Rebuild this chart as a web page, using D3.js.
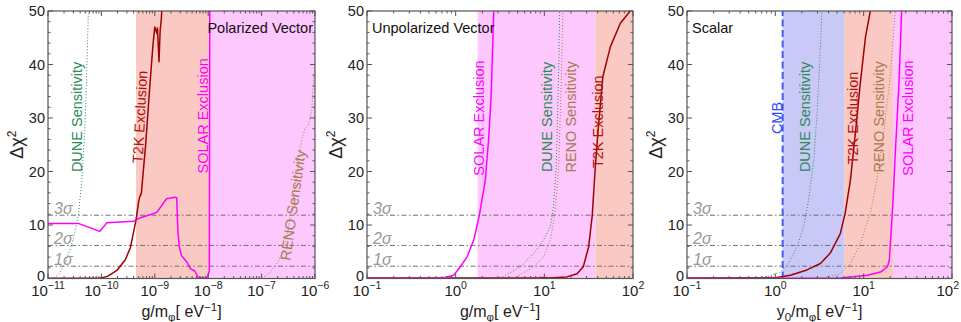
<!DOCTYPE html>
<html><head><meta charset="utf-8">
<script src="https://cdn.jsdelivr.net/npm/d3@7"></script>
<style>body{margin:0;background:#fff} svg{display:block;font-family:"Liberation Sans",Arial,sans-serif}</style>
</head><body><svg id="c" width="961" height="322"></svg>
<script>
// ---------------- data ----------------
const yTicks = [0, 10, 20, 30, 40, 50];
const sigmaLevels = [2.3, 6.18, 11.83];
const sigmaLabels = ["1σ", "2σ", "3σ"];
const panelTitles = ["Polarized Vector", "Unpolarized Vector", "Scalar"];
const xDomains = [[1e-11, 1e-6], [0.1, 100], [0.1, 100]];
const xTickExps = [[-11, -10, -9, -8, -7, -6], [-1, 0, 1, 2], [-1, 0, 1, 2]];

// Polarized vector
const polDUNE = [[1.0e-11,0],[1.3e-11,0.1],[1.6e-11,0.8],[2.1e-11,2.8],[2.6e-11,5.5],[3.0e-11,7.5],[3.7e-11,11.8],[4.3e-11,18.4],[4.9e-11,28],[5.3e-11,38],[5.7e-11,50]];
const polT2K = [[1e-11,0.05],[9.3e-11,0.05],[1.3e-10,0.4],[1.95e-10,1.5],[2.8e-10,3.5],[3.5e-10,5.8],[4.45e-10,10.9],[5.0e-10,14.5],[5.25e-10,15.3],[5.6e-10,15.9],[6.8e-10,25.5],[8.0e-10,35.5],[9.3e-10,44],[1.0e-9,47],[1.1e-9,45.8],[1.12e-9,46.8],[1.2e-9,40.5],[1.26e-9,46.4],[1.32e-9,48.3],[1.35e-9,50],[1.4e-9,52]];
const polSOLAR = [[1e-11,10.3],[3.7e-11,10.3],[9.3e-11,8.8],[1.26e-10,10.4],[4.0e-10,10.7],[5.2e-10,11.3],[9.3e-10,12.1],[1.1e-9,12.4],[1.66e-9,14.9],[2.4e-9,15.2],[2.57e-9,15.1],[2.7e-9,9],[2.88e-9,5.9],[3.16e-9,4.3],[3.98e-9,3.1],[4.68e-9,1.8],[5.6e-9,1.4],[6.45e-9,0.25],[8.7e-9,0.05],[9.8e-9,0.4],[1.05e-8,1.5],[1.07e-8,50]];
const polRENO = [[1.0e-7,0],[1.4e-7,1.0],[2.0e-7,3.0],[2.6e-7,5.2],[3.0e-7,7.7],[3.4e-7,11.5],[3.9e-7,14.6],[4.7e-7,20],[5.6e-7,25.9],[6.45e-7,28],[7.5e-7,28.7],[8.7e-7,31.5],[9.5e-7,37.7],[1.0e-6,39.6]];
const polRegions = [[4.45e-10, 1.05e-8, "t2k"], [1.05e-8, 1e-6, "solar"]];

// Unpolarized vector
const unpSOLAR = [[0.1,0.05],[0.7,0.05],[0.95,0.6],[1.13,2.2],[1.34,4.0],[1.6,7.2],[1.85,11.83],[2.16,18.4],[2.35,25.9],[2.5,33.4],[2.61,42.7],[2.69,50]];
const unpDUNE = [[3.16,0],[5.4,2.2],[7.6,4.7],[9.8,7.2],[11.7,9.7],[12.7,13.4],[13.6,20.9],[14.1,30.2],[14.6,40.8],[14.9,50]];
const unpRENO = [[4.5,0],[7.6,2.2],[9.8,4.0],[11.7,7.2],[13.2,12.2],[14.5,20.9],[15.1,30.2],[15.7,39.6],[16.2,50]];
const unpT2K = [[0.1,0.1],[9.0,0.1],[10,0.2],[11,0.1],[18,0.3],[23.4,0.9],[27.5,2.2],[31.6,5.9],[34.7,11.8],[37.6,20.9],[40.7,28.4],[45.7,37.7],[55.5,43.3],[72,47.7],[93,50]];
const unpRegions = [[1.77, 37.6, "solar"], [37.6, 100, "t2k"]];

// Scalar
const scaDUNE = [[0.1,0],[0.52,0.05],[0.8,0.3],[1.14,1.2],[1.41,2.8],[1.76,5.9],[2.09,9.7],[2.38,14.7],[2.72,22.1],[2.95,30.2],[3.16,39.6],[3.37,50]];
const scaT2K = [[0.1,0.1],[1.0,0.15],[1.48,0.6],[2.28,1.6],[3.24,2.8],[4.17,4.7],[5.44,8.4],[6.17,12.2],[7.08,18.4],[8.05,27.1],[9.16,36.5],[10.5,45.2],[11.9,50]];
const scaRENO = [[3.24,0],[5.44,0.9],[7.08,2.8],[9.16,6.5],[11.9,12.2],[14.1,18.4],[16.8,27.1],[20,37.7],[22.8,50]];
const scaSOLAR = [[0.1,0.05],[4.0,0.05],[5.5,0.1],[11,0.6],[15.5,1.2],[18.6,2.2],[19.5,3.4],[20.4,8.4],[21.5,14.7],[22.9,24],[25.1,36.5],[26.9,50]];
const scaRegions = [[1.21, 6.04, "cmb"], [6.04, 21.5, "t2k"], [21.5, 100, "solar"]];
const scaCMB = 1.21;

// annotation labels: [text, kind, x, y(Δχ²), angle]
const polLabels = [["DUNE Sensitivity","dune",3.49e-11,30.2,-90],["T2K Exclusion","t2k",5.28e-10,30.2,-87],["SOLAR Exclusion","solar",8.0e-9,30.4,-90],["RENO Sensitivity","reno",3.87e-7,13.7,-82]];
const unpLabels = [["SOLAR Exclusion","solar",1.83,30,-90],["DUNE Sensitivity","dune",10.6,30.2,-90],["RENO Sensitivity","reno",19.8,30.2,-90],["T2K Exclusion","t2k",40.6,29.3,-90]];
const scaLabels = [["CMB","cmb",1.04,30,-90],["DUNE Sensitivity","dune",2.17,30.2,-90],["T2K Exclusion","t2k",7.52,30,-90],["RENO Sensitivity","reno",15.0,30.2,-90],["SOLAR Exclusion","solar",32.0,30,-90]];

// ---------------- styles ----------------
const fillCol = {t2k: "#fbc9c3", solar: "#fdc8fd", cmb: "#c9c9f8"};
const textCol = {dune: "#2e8b57", reno: "#a87a4c", t2k: "#b01010", solar: "#ff00ff", cmb: "#2a4cff"};
const lineStyle = {
  dune: {stroke: "#2e8b57", w: 1, dash: "1,2"},
  reno: {stroke: "#a87a4c", w: 1, dash: "1,2"},
  t2k: {stroke: "#a00000", w: 1.5, dash: null},
  solar: {stroke: "#ff00ff", w: 1.5, dash: null}
};

const panels = [
  {regions: polRegions, curves: [["t2k", polT2K], ["solar", polSOLAR], ["dune", polDUNE], ["reno", polRENO]], labels: polLabels, titleRight: true, cmb: null, xr: [48, 315]},
  {regions: unpRegions, curves: [["t2k", unpT2K], ["solar", unpSOLAR], ["dune", unpDUNE], ["reno", unpRENO]], labels: unpLabels, titleRight: false, cmb: null, xr: [367, 633]},
  {regions: scaRegions, curves: [["t2k", scaT2K], ["solar", scaSOLAR], ["dune", scaDUNE], ["reno", scaRENO]], labels: scaLabels, titleRight: false, cmb: scaCMB, xr: [687, 952]}
];

const svg = d3.select("#c");
const yTop = 11, yBot = 278.5;
const y = d3.scaleLinear().domain([0, 50]).range([yBot, yTop]);
const frameCol = "#555";

panels.forEach((p, i) => {
  const x = d3.scaleLog().domain(xDomains[i]).range(p.xr);
  const g = svg.append("g");
  const cid = "clip" + i;
  svg.append("clipPath").attr("id", cid).append("rect")
    .attr("x", p.xr[0]).attr("y", yTop).attr("width", p.xr[1] - p.xr[0]).attr("height", yBot - yTop);
  const plot = g.append("g").attr("clip-path", `url(#${cid})`);

  plot.selectAll("rect.reg").data(p.regions).join("rect")
    .attr("x", d => x(d[0])).attr("width", d => x(d[1]) - x(d[0]))
    .attr("y", y(50)).attr("height", y(0) - y(50))
    .attr("fill", d => fillCol[d[2]]);

  plot.selectAll("line.sig").data(sigmaLevels).join("line")
    .attr("x1", p.xr[0]).attr("x2", p.xr[1])
    .attr("y1", d => y(d)).attr("y2", d => y(d))
    .attr("stroke", "#707070").attr("stroke-width", 1).attr("stroke-dasharray", "5,2.5,1.5,2.5");

  if (p.cmb) {
    plot.append("line").attr("x1", x(p.cmb)).attr("x2", x(p.cmb)).attr("y1", y(0)).attr("y2", y(50))
      .attr("stroke", "#3f5cf5").attr("stroke-width", 2).attr("stroke-dasharray", "7,3.5");
  }

  const line = d3.line().x(d => x(d[0])).y(d => y(d[1]));
  p.curves.forEach(([k, data]) => {
    const s = lineStyle[k];
    plot.append("path").attr("d", line(data)).attr("fill", "none")
      .attr("stroke", s.stroke).attr("stroke-width", s.w)
      .attr("stroke-dasharray", s.dash).attr("stroke-linejoin", "round");
  });

  g.selectAll("text.sl").data(sigmaLevels).join("text")
    .attr("x", p.xr[0] + 6).attr("y", d => y(d) - 1)
    .attr("font-size", 16).attr("fill", "#999").attr("font-style", "italic")
    .text((d, j) => sigmaLabels[j]);

  p.labels.forEach(([t, k, lx, ly, ang]) => {
    g.append("text").attr("transform", `translate(${x(lx)},${y(ly)}) rotate(${ang})`)
      .attr("text-anchor", "middle").attr("dominant-baseline", "central")
      .attr("font-size", 14.5).attr("fill", textCol[k]).text(t);
  });

  const tt = g.append("text").attr("font-size", 14.5).attr("fill", "#111").attr("y", 33).text(panelTitles[i]);
  if (p.titleRight) tt.attr("x", p.xr[1] - 2).attr("text-anchor", "end");
  else tt.attr("x", p.xr[0] + 5);

  g.append("rect").attr("x", p.xr[0]).attr("y", yTop).attr("width", p.xr[1] - p.xr[0]).attr("height", yBot - yTop)
    .attr("fill", "none").attr("stroke", frameCol).attr("stroke-width", 1.2);

  const hi = xDomains[i][1];
  const major = xTickExps[i].map(e => Math.pow(10, e));
  const minor = [];
  xTickExps[i].forEach(e => { for (let k = 2; k <= 9; k++) { const v = k * Math.pow(10, e); if (v < hi) minor.push(v); } });
  const tk = g.append("g").attr("stroke", frameCol).attr("stroke-width", 1);
  major.forEach(v => {
    tk.append("line").attr("x1", x(v)).attr("x2", x(v)).attr("y1", yBot).attr("y2", yBot - 5);
    tk.append("line").attr("x1", x(v)).attr("x2", x(v)).attr("y1", yTop).attr("y2", yTop + 5);
  });
  minor.forEach(v => {
    tk.append("line").attr("x1", x(v)).attr("x2", x(v)).attr("y1", yBot).attr("y2", yBot - 2.5);
    tk.append("line").attr("x1", x(v)).attr("x2", x(v)).attr("y1", yTop).attr("y2", yTop + 2.5);
  });
  const ymin = d3.range(0, 51, 2).filter(v => v % 10 !== 0);
  yTicks.forEach(v => {
    tk.append("line").attr("x1", p.xr[0]).attr("x2", p.xr[0] + 5).attr("y1", y(v)).attr("y2", y(v));
    tk.append("line").attr("x1", p.xr[1]).attr("x2", p.xr[1] - 5).attr("y1", y(v)).attr("y2", y(v));
  });
  ymin.forEach(v => {
    tk.append("line").attr("x1", p.xr[0]).attr("x2", p.xr[0] + 2.5).attr("y1", y(v)).attr("y2", y(v));
    tk.append("line").attr("x1", p.xr[1]).attr("x2", p.xr[1] - 2.5).attr("y1", y(v)).attr("y2", y(v));
  });

  g.selectAll("text.yl").data(yTicks).join("text")
    .attr("x", p.xr[0] - 3).attr("y", d => y(d) - (d === 0 ? 3 : 0)).attr("text-anchor", "end").attr("dominant-baseline", "central")
    .attr("font-size", 14.5).attr("fill", "#222").text(d => d);

  xTickExps[i].forEach((e, j) => {
    const last = (i === 2 && j === xTickExps[i].length - 1);
    const t = g.append("text").attr("x", last ? 959 : x(Math.pow(10, e))).attr("y", 296)
      .attr("text-anchor", last ? "end" : "middle")
      .attr("font-size", 15).attr("fill", "#222");
    t.append("tspan").text("10");
    t.append("tspan").attr("dy", -7).attr("font-size", 10.5).text(e < 0 ? "\u2212" + (-e) : String(e));
  });

  const cx = (p.xr[0] + p.xr[1]) / 2;
  const xt = g.append("text").attr("x", cx).attr("y", 317).attr("text-anchor", "middle").attr("font-size", 16).attr("fill", "#222");
  if (i === 2) {
    xt.append("tspan").text("y");
    xt.append("tspan").attr("dy", 4).attr("font-size", 11.5).text("0");
    xt.append("tspan").attr("dy", -4).text("/m");
  } else {
    xt.append("tspan").text("g/m");
  }
  xt.append("tspan").attr("dy", 4).attr("font-size", 11.5).text("\u03C6");
  xt.append("tspan").attr("dy", -4).text("[ eV");
  xt.append("tspan").attr("dy", -6).attr("font-size", 11.5).text("\u22121");
  xt.append("tspan").attr("dy", 6).text("]");

  const yt = g.append("text").attr("transform", `translate(${p.xr[0] - 25},${(yTop + yBot) / 2}) rotate(-90)`)
    .attr("text-anchor", "middle").attr("font-size", 18).attr("fill", "#222");
  yt.append("tspan").text("\u0394\u03C7");
  yt.append("tspan").attr("dy", -7).attr("font-size", 12).text("2");
});
</script></body></html>
